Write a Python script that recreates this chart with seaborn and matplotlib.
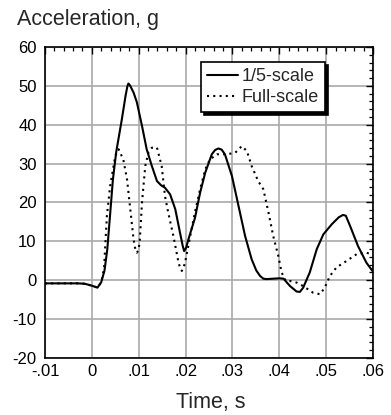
import matplotlib
matplotlib.use("Agg")
import matplotlib.pyplot as plt
from matplotlib.ticker import FixedLocator, MultipleLocator
import numpy as np
import pandas as pd
import seaborn as sns

# ---- data ----
series_names = ["1/5-scale", "Full-scale"]

time_small = [-0.01, -0.006, -0.003, -0.0015, 0.0, 0.0012, 0.002, 0.0027, 0.0033,
              0.0039, 0.0045, 0.0052, 0.0064, 0.0072, 0.0076, 0.0078, 0.0081, 0.0089, 0.0096,
              0.0107, 0.0117, 0.0128, 0.0139, 0.0148, 0.0156, 0.0167, 0.0178, 0.0188, 0.0194,
              0.0197, 0.0201, 0.0206, 0.022, 0.0231, 0.0242, 0.0256, 0.0263, 0.027, 0.0277,
              0.0284, 0.0299, 0.0313, 0.0327, 0.0341, 0.0351, 0.0359, 0.0366, 0.0373,
              0.0401, 0.0409, 0.0423, 0.0437, 0.0444, 0.0451, 0.0465, 0.048, 0.0494,
              0.0512, 0.0527, 0.0536, 0.0542, 0.0551, 0.0568, 0.0586, 0.06]
accel_small = [-0.8, -0.8, -0.8, -0.9, -1.4, -1.9, -0.5, 2.5, 8.0,
               17.0, 26.0, 33.0, 41.4, 47.5, 50.0, 50.6, 50.2, 48.3, 45.8,
               39.7, 33.7, 29.4, 25.5, 24.4, 23.8, 22.1, 18.3, 12.3, 8.8,
               7.5, 8.3, 10.5, 16.0, 22.5, 27.7, 32.4, 33.5, 33.9, 33.6,
               32.4, 26.8, 19.1, 11.4, 5.4, 2.5, 1.1, 0.4, 0.3,
               0.5, 0.4, -1.5, -2.9, -3.0, -1.9, 2.0, 8.0, 11.8,
               14.4, 16.2, 16.8, 16.6, 14.0, 8.8, 4.5, 2.2]

time_full = [-0.01, -0.006, -0.003, -0.0015, 0.0, 0.0012, 0.002, 0.0026, 0.0032,
             0.0039, 0.005, 0.0057, 0.0067, 0.0075, 0.0082, 0.0089, 0.0093, 0.0096, 0.0099, 0.0102,
             0.0107, 0.0114, 0.0121, 0.0128, 0.0139, 0.0149, 0.0156, 0.0163, 0.0174,
             0.0185, 0.0189, 0.0192, 0.0195, 0.0199, 0.021, 0.022, 0.0231, 0.0242, 0.0252, 0.0267,
             0.0288, 0.0306, 0.032, 0.0331, 0.0341, 0.0355, 0.0366, 0.0377, 0.0387,
             0.0398, 0.0405, 0.0414, 0.0423, 0.0437, 0.0451, 0.0472, 0.0487, 0.0497,
             0.0508, 0.0522, 0.0544, 0.0565, 0.0586, 0.06]
accel_full = [-0.8, -0.8, -0.8, -0.9, -1.4, -1.9, -0.5, 3.0, 16.5,
              24.2, 32.0, 33.7, 31.1, 26.0, 18.3, 10.5, 7.8, 7.1, 7.6, 9.7,
              20.0, 29.4, 33.0, 34.1, 34.1, 29.4, 21.7, 17.4, 11.4,
              4.5, 3.0, 2.4, 3.0, 4.6, 11.4, 17.5, 23.4, 28.5, 31.1, 32.4,
              32.4, 32.8, 34.5, 33.2, 29.4, 25.5, 23.4, 17.4, 11.4,
              6.2, 2.0, -0.2, -0.2, -0.6, -1.5, -3.2, -3.6, -1.9,
              1.1, 3.3, 5.0, 6.7, 7.1, 6.5]

x_ticks = [-0.01, 0.0, 0.01, 0.02, 0.03, 0.04, 0.05, 0.06]
x_tick_labels = ["-.01", "0", ".01", ".02", ".03", ".04", ".05", ".06"]
y_ticks = [-20, -10, 0, 10, 20, 30, 40, 50, 60]
y_tick_labels = ["-20", "-10", "0", "10", "20", "30", "40", "50", "60"]

df = pd.concat([
    pd.DataFrame({"time": time_small, "accel": accel_small, "series": series_names[0]}),
    pd.DataFrame({"time": time_full, "accel": accel_full, "series": series_names[1]}),
], ignore_index=True)

# ---- style ----
sns.set_style("white")
plt.rcParams["font.family"] = ["Liberation Sans", "DejaVu Sans"]
plt.rcParams["axes.unicode_minus"] = False

fig = plt.figure(figsize=(3.91, 4.15), dpi=100)
ax = fig.add_axes([45 / 391, 57 / 415, 328 / 391, 311 / 415])

sns.lineplot(data=df, x="time", y="accel", hue="series", style="series",
             palette={series_names[0]: "black", series_names[1]: "black"},
             dashes={series_names[0]: "", series_names[1]: (1, 2)},
             linewidth=1.5, sort=False, ax=ax, zorder=3)

ax.set_xlim(-0.01, 0.06)
ax.set_ylim(-20, 60)
ax.xaxis.set_major_locator(FixedLocator(x_ticks))
ax.set_xticklabels(x_tick_labels)
ax.yaxis.set_major_locator(FixedLocator(y_ticks))
ax.set_yticklabels(y_tick_labels)
ax.xaxis.set_minor_locator(MultipleLocator(0.002))
ax.yaxis.set_minor_locator(MultipleLocator(2))

ax.set_axisbelow(True)
ax.grid(True, which="major", color="#a9a9a9", linewidth=1.2)
ax.tick_params(which="both", direction="in", top=True, right=True,
               color="black", labelsize=12, labelcolor="black")
ax.tick_params(which="major", length=5, width=1.0)
ax.tick_params(which="minor", length=3, width=0.9)
ax.tick_params(axis="x", which="major", pad=4)
ax.tick_params(axis="y", which="major", pad=6)
for s in ax.spines.values():
    s.set_color("black")
    s.set_linewidth(1.2)

ax.set_xlabel("")
ax.set_ylabel("")

handles, labels = ax.get_legend_handles_labels()
leg = ax.legend(handles, labels, loc="upper right",
                bbox_to_anchor=(0.854, 0.952), fontsize=13,
                frameon=True, fancybox=False, framealpha=1,
                edgecolor="black", handlelength=1.7, handletextpad=0.2,
                borderpad=0.35, labelspacing=0.2, borderaxespad=0,
                shadow={"color": "black", "alpha": 1.0, "shade": 0})
leg.get_frame().set_linewidth(1.2)

fig.text(17 / 391, 1 - 25 / 415, "Acceleration, g", fontsize=15.5,
         ha="left", va="baseline")
fig.text(211 / 391, 1 - 408 / 415, "Time, s", fontsize=15.5,
         ha="center", va="baseline")

fig.savefig("out.png", dpi=100)
